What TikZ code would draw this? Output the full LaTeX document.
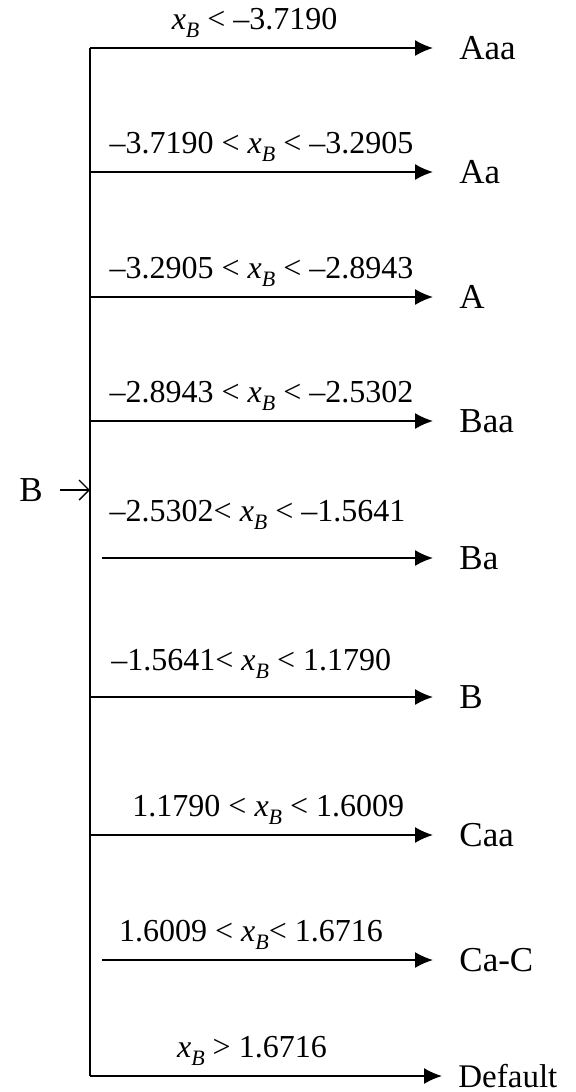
\documentclass[tikz,border=0pt]{standalone}
\usepackage{fontspec}
\setmainfont{Liberation Serif}
\usepackage{tikz}
\usetikzlibrary{arrows.meta, positioning}
\newcommand{\xb}{\textit{x}\raisebox{-0.55ex}{\fontsize{11}{11}\selectfont\textit{B}}}

\begin{document}
\begin{tikzpicture}[
        x=0.5pt, y=-0.5pt,
        font=\fontsize{16}{18}\selectfont,
        trunk/.style={line width=0.8pt},
        branch/.style={-{Latex[length=9pt, width=8pt]}, line width=0.8pt},
        cond/.style={above=4pt, inner sep=1pt},
        leaf/.style={anchor=west, inner xsep=13pt, inner ysep=0pt,
                     font=\fontsize{17.5}{19}\selectfont},
    ]
        \useasboundingbox (0,0) rectangle (575,1092);

        % split points on the trunk
        \coordinate (t1) at (90,48);
        \coordinate (t2) at (90,172);
        \coordinate (t3) at (90,297);
        \coordinate (t4) at (90,421);
        \coordinate (tin) at (90,490);
        \coordinate (t5) at (102,558);
        \coordinate (t6) at (90,697);
        \coordinate (t7) at (90,835);
        \coordinate (t8) at (102,960);
        \coordinate (t9) at (90,1076);

        \node[leaf] (aaa) at (433,48) {Aaa};
        \node[leaf] (aa) at (433,172) {Aa};
        \node[leaf] (a) at (433,297) {A};
        \node[leaf] (baa) at (433,421) {Baa};
        \node[leaf] (ba) at (433,558) {Ba};
        \node[leaf] (b) at (433,697) {B};
        \node[leaf] (caa) at (433,835) {Caa};
        \node[leaf] (cac) at (433,960) {Ca-C};
        \node[leaf, inner xsep=8pt, font=\fontsize{16.5}{18}\selectfont] (dflt) at (442,1076) {Default};

        \node[font=\fontsize{17.5}{19}\selectfont] (inp) at (31,490) {B};

        \draw[trunk] (t1) -- (t9);
        \draw[-{Straight Barb[length=5pt, width=10pt]}, line width=0.7pt] (inp.east) ++(5pt,0) -- (tin);

        \draw[branch] (t1) -- node[cond, pos=0.48] {\xb\ < –3.7190} (aaa);
        \draw[branch] (t2) -- node[cond] {–3.7190 < \xb\ < –3.2905} (aa);
        \draw[branch] (t3) -- node[cond] {–3.2905 < \xb\ < –2.8943} (a);
        \draw[branch] (t4) -- node[cond] {–2.8943 < \xb\ < –2.5302} (baa);
        \draw[branch] (t5) -- node[cond, above=13pt, pos=0.47] {–2.5302< \xb\ < –1.5641} (ba);
        \draw[branch] (t6) -- node[cond, above=8pt, pos=0.47] {–1.5641< \xb\ < 1.1790} (b);
        \draw[branch] (t7) -- node[cond, pos=0.52] {1.1790 < \xb\ < 1.6009} (caa);
        \draw[branch] (t8) -- node[cond, pos=0.45] {1.6009 < \xb< 1.6716} (cac);
        \draw[branch] (t9) -- node[cond, pos=0.46] {\xb\ > 1.6716} (dflt);

    \end{tikzpicture}
\end{document}
